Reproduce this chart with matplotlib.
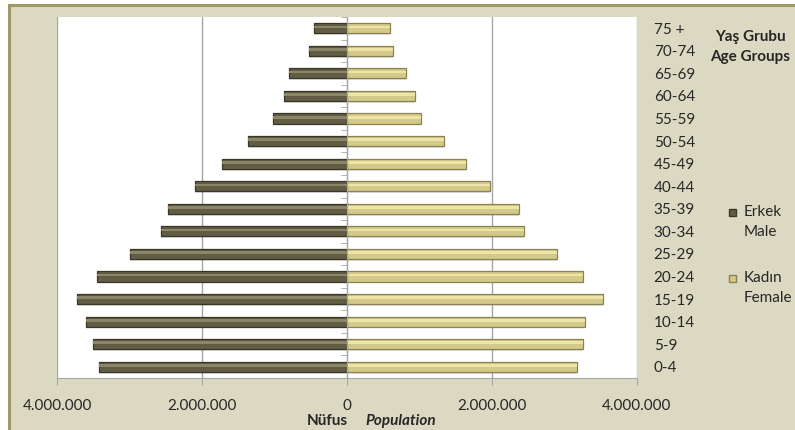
import numpy as np
import matplotlib
matplotlib.use("Agg")
import matplotlib.pyplot as plt
from matplotlib.patches import Rectangle
from matplotlib.ticker import FuncFormatter, FixedLocator

plt.rcParams['font.family'] = ['Lato', 'DejaVu Sans']

age_groups = ["0-4", "5-9", "10-14", "15-19", "20-24", "25-29", "30-34", "35-39",
              "40-44", "45-49", "50-54", "55-59", "60-64", "65-69", "70-74", "75 +"]
male = [3420000, 3510000, 3600000, 3730000, 3450000, 2990000, 2570000, 2470000,
        2090000, 1720000, 1360000, 1020000, 870000, 800000, 520000, 450000]
female = [3170000, 3260000, 3290000, 3530000, 3260000, 2900000, 2450000, 2380000,
          1970000, 1640000, 1340000, 1020000, 940000, 820000, 630000, 590000]
x_ticks = [-4000000, -2000000, 0, 2000000, 4000000]
series_labels = [("Erkek", "Male"), ("Kadın", "Female")]

W, H = 795, 430
fig = plt.figure(figsize=(W / 100, H / 100), dpi=100)
fig.patch.set_facecolor('white')

bg = '#DCD9C3'
bgax = fig.add_axes([0, 0, 1, 1], zorder=-10)
bgax.set_axis_off()
bgax.set_xlim(0, W)
bgax.set_ylim(H, 0)
bgax.add_patch(Rectangle((9, 5), W + 50, H + 50, facecolor=bg, edgecolor='#A09866',
                         linewidth=2.2))

ax = fig.add_axes([57 / W, 1 - 378 / H, (636.7 - 57) / W, (378 - 17) / H])
ax.set_facecolor('white')

y = np.arange(len(age_groups))
male_arr = np.array(male)
female_arr = np.array(female)

male_col, male_edge = '#625C45', '#3A3627'
fem_col, fem_edge = '#D3C988', '#8A8254'

# soft shadow
ax.barh(y - 0.08, -male_arr, height=0.45, color='#000000', alpha=0.12, linewidth=0, zorder=2)
ax.barh(y - 0.08, female_arr, height=0.45, color='#000000', alpha=0.12, linewidth=0, zorder=2)

ax.barh(y, -male_arr, height=0.45, color=male_col, edgecolor=male_edge,
        linewidth=0.9, zorder=3)
ax.barh(y, female_arr, height=0.45, color=fem_col, edgecolor=fem_edge,
        linewidth=0.9, zorder=3)
# highlight stripes for a glossy look
ax.barh(y + 0.06, -male_arr, height=0.12, color='#8C8668', linewidth=0, zorder=4)
ax.barh(y + 0.06, female_arr, height=0.12, color='#EDE4A8', linewidth=0, zorder=4)

ax.set_xlim(-4000000, 4000000)
ax.set_ylim(-0.5, len(age_groups) - 0.5)

ax.set_xticks(x_ticks)
ax.xaxis.set_major_formatter(FuncFormatter(lambda v, p: f"{abs(int(v)):,}".replace(",", ".")))
ax.grid(axis='x', color='#A6A6A6', linewidth=1.0, zorder=1)
ax.tick_params(axis='x', length=5, color='#A6A6A6', labelsize=11, pad=10, labelcolor='#262626')

for s in ['top', 'right']:
    ax.spines[s].set_visible(False)
ax.spines['bottom'].set_color('#A6A6A6')
ax.spines['left'].set_position(('data', 0))
ax.spines['left'].set_color('#A6A6A6')
ax.spines['left'].set_zorder(5)

ax.set_yticks(y)
ax.set_yticklabels(age_groups)
ax.yaxis.set_minor_locator(FixedLocator(np.arange(-0.5, len(age_groups), 1.0)))
ax.tick_params(axis='y', which='major', left=False, right=False, labelleft=False,
               labelright=True, labelsize=11, pad=8.8, labelcolor='#262626')
ax.tick_params(axis='y', which='minor', left=True, right=False, length=4.5,
               color='#A6A6A6')

fig.text(348 / W, 1 - 421 / H, "Nüfus", ha='right', va='center', fontsize=11,
         fontweight='bold', color='#262626')
fig.text(365 / W, 1 - 421 / H, "Population", ha='left', va='center', fontsize=11,
         fontweight='bold', fontstyle='italic', color='#262626')

fig.text(750 / W, 1 - 37 / H, "Yaş Grubu", ha='center', va='center', fontsize=11,
         fontweight='bold', color='#262626')
fig.text(750 / W, 1 - 57 / H, "Age Groups", ha='center', va='center', fontsize=11,
         fontweight='bold', color='#262626')

# legend
leg_y = [212, 278]
for (l1, l2), yy, fc, ec in zip(series_labels, leg_y, [male_col, fem_col], [male_edge, fem_edge]):
    bgax.add_patch(Rectangle((728.5, yy - 3.5), 7, 7, facecolor=fc, edgecolor=ec, linewidth=1.0))
    bgax.text(744, yy, l1, ha='left', va='center', fontsize=11, color='#262626')
    bgax.text(744, yy + 20, l2, ha='left', va='center', fontsize=11, color='#262626')

fig.savefig("out.png", dpi=100, facecolor=fig.get_facecolor())
